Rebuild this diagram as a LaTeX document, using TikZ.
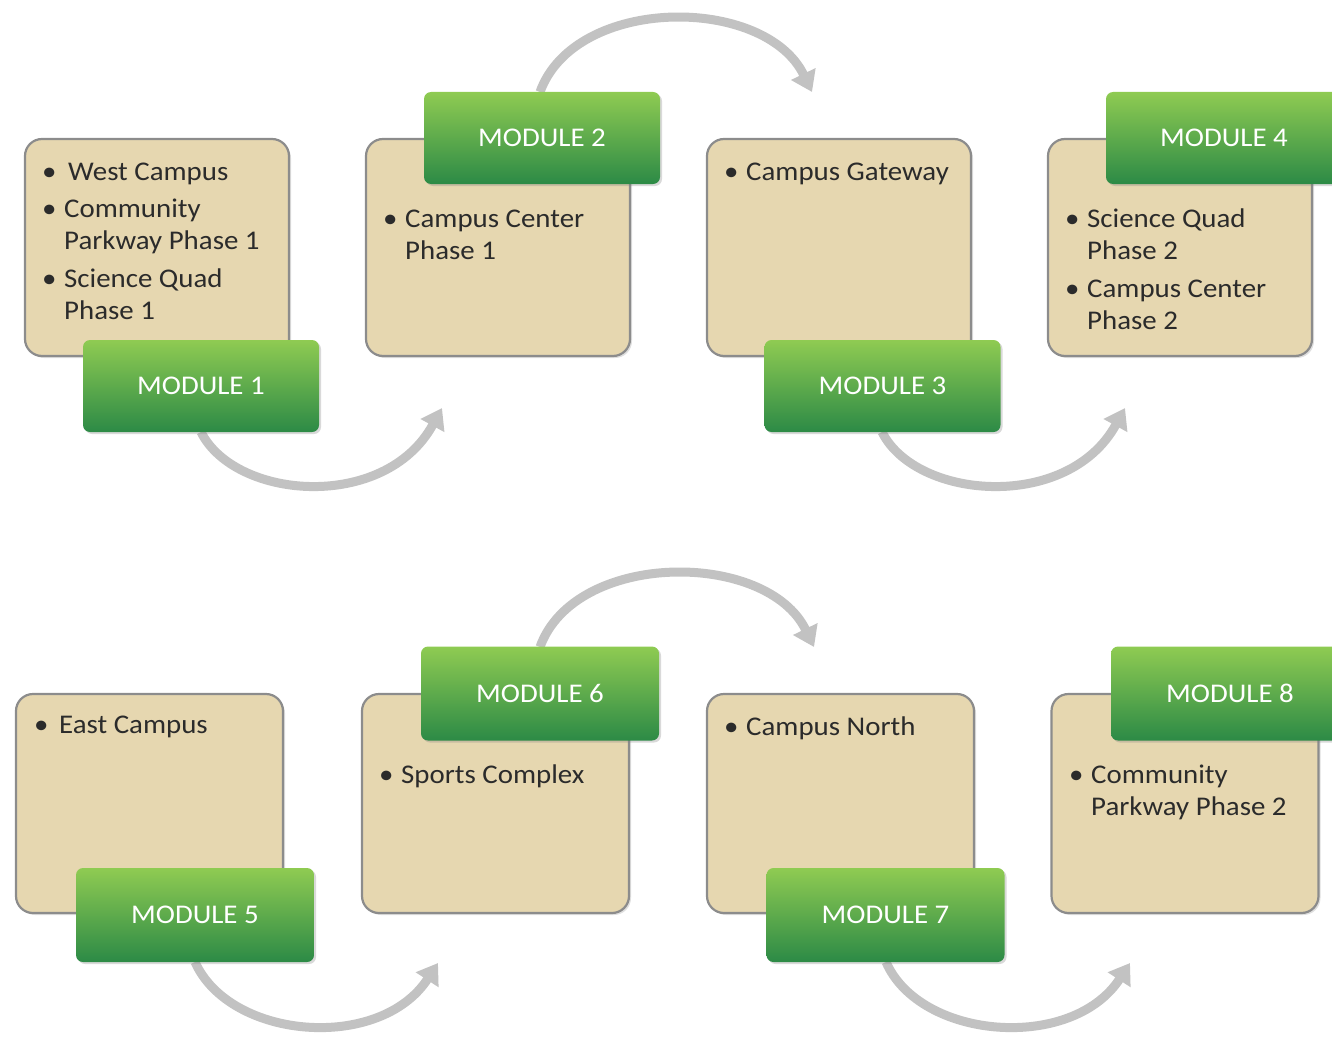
\documentclass[tikz,border=0pt]{standalone}
\usepackage{fontspec}
\setmainfont{Carlito}[FakeStretch=1.07]
\usetikzlibrary{arrows.meta,shadows}
\definecolor{tanc}{HTML}{E6D7B0}
\definecolor{tanedge}{HTML}{8C8C8C}
\definecolor{gtop}{HTML}{8FCB52}
\definecolor{gbot}{HTML}{2C8A46}
\definecolor{txt}{HTML}{2B2B2B}
\definecolor{arr}{HTML}{C2C2C2}
\tikzset{
  tanbox/.style={draw=tanedge, line width=2.2pt, fill=tanc, rounded corners=17pt,
    drop shadow={opacity=0.25, shadow xshift=2pt, shadow yshift=-2pt}},
  modbox/.style={rounded corners=7pt, top color=gtop, bottom color=gbot,
    text=white, font=\fontsize{27}{30}\selectfont,
    drop shadow={opacity=0.3, shadow xshift=2pt, shadow yshift=-2pt}},
  itm/.style={anchor=base west, inner sep=0pt, text=txt, font=\fontsize{27}{32}\selectfont},
  bul/.style={anchor=base west, inner sep=0pt, text=txt, font=\fontsize{27}{32}\selectfont},
  flow/.style={draw=arr, line width=9pt, -{Triangle[width=26pt,length=20pt]}},
}
\begin{document}
\begin{tikzpicture}[x=1pt,y=-1pt]
\useasboundingbox (0,0) rectangle (1332,1038);
\clip (0,0) rectangle (1332,1038);
% free ends of the arrows
\coordinate (a1e) at (442,408);
\coordinate (a2e) at (812,92);
\coordinate (a3e) at (1125,408);
\coordinate (a4e) at (438,963);
\coordinate (a5e) at (814,647);
\coordinate (a6e) at (1130,963);
% arrows (behind)
\draw[flow] (201,432) coordinate (a1s) .. controls (235,500) and (385,512) .. (a1e);
\draw[flow] (540,92) coordinate (a2s) .. controls (575,-5) and (765,-5) .. (a2e);
\draw[flow] (882,432) coordinate (a3s) .. controls (916,500) and (1068,512) .. (a3e);
\draw[flow] (195,962) coordinate (a4s) .. controls (230,1040) and (380,1052) .. (a4e);
\draw[flow] (540,647) coordinate (a5s) .. controls (575,550) and (767,550) .. (a5e);
\draw[flow] (886,962) coordinate (a6s) .. controls (920,1040) and (1072,1052) .. (a6e);
% tan boxes
\node[tanbox, minimum width=264pt, minimum height=217pt] (b1) at (157,247.5) {};
\node[tanbox, minimum width=264pt, minimum height=217pt] (b2) at (498,247.5) {};
\node[tanbox, minimum width=264pt, minimum height=217pt] (b3) at (839,247.5) {};
\node[tanbox, minimum width=264pt, minimum height=217pt] (b4) at (1180,247.5) {};
\node[tanbox, minimum width=267pt, minimum height=219pt] (b5) at (149.5,803.5) {};
\node[tanbox, minimum width=267pt, minimum height=219pt] (b6) at (495.5,803.5) {};
\node[tanbox, minimum width=267pt, minimum height=219pt] (b7) at (840.5,803.5) {};
\node[tanbox, minimum width=267pt, minimum height=219pt] (b8) at (1185,803.5) {};
% green modules
\node[modbox, minimum width=236pt, minimum height=92pt] (m1) at (201,386) {MODULE 1};
\node[modbox, minimum width=236pt, minimum height=92pt] (m2) at (542,138) {MODULE 2};
\node[modbox, minimum width=236pt, minimum height=92pt] (m3) at (882.5,386) {MODULE 3};
\node[modbox, minimum width=236pt, minimum height=92pt] (m4) at (1224,138) {MODULE 4};
\node[modbox, minimum width=238pt, minimum height=94pt] (m5) at (195,915) {MODULE 5};
\node[modbox, minimum width=238pt, minimum height=94pt] (m6) at (540,693.5) {MODULE 6};
\node[modbox, minimum width=238pt, minimum height=94pt] (m7) at (885.5,915) {MODULE 7};
\node[modbox, minimum width=238pt, minimum height=94pt] (m8) at (1230,693.5) {MODULE 8};
% texts box 1
\node[bul] (p1a) at (42,180) {•};
\node[itm] (t1a) at (68,180) {West Campus};
\node[bul] (p1b) at (42,217) {•};
\node[itm] (t1b) at (64,217) {Community};
\node[itm] (t1c) at (64,249) {Parkway Phase 1};
\node[bul] (p1d) at (42,287) {•};
\node[itm] (t1d) at (64,287) {Science Quad};
\node[itm] (t1e) at (64,319) {Phase 1};
% box 2
\node[bul] (p2a) at (383,227) {•};
\node[itm] (t2a) at (405,227) {Campus Center};
\node[itm] (t2b) at (405,259) {Phase 1};
% box 3
\node[bul] (p3a) at (724,180) {•};
\node[itm] (t3a) at (746,180) {Campus Gateway};
% box 4
\node[bul] (p4a) at (1065,227) {•};
\node[itm] (t4a) at (1087,227) {Science Quad};
\node[itm] (t4b) at (1087,259) {Phase 2};
\node[bul] (p4c) at (1065,297) {•};
\node[itm] (t4c) at (1087,297) {Campus Center};
\node[itm] (t4d) at (1087,329) {Phase 2};
% box 5
\node[bul] (p5a) at (34,733) {•};
\node[itm] (t5a) at (59,733) {East Campus};
% box 6
\node[bul] (p6a) at (379,783) {•};
\node[itm] (t6a) at (401,783) {Sports Complex};
% box 7
\node[bul] (p7a) at (724,735) {•};
\node[itm] (t7a) at (746,735) {Campus North};
% box 8
\node[bul] (p8a) at (1069,783) {•};
\node[itm] (t8a) at (1091,783) {Community};
\node[itm] (t8b) at (1091,815) {Parkway Phase 2};
\end{tikzpicture}
\end{document}
